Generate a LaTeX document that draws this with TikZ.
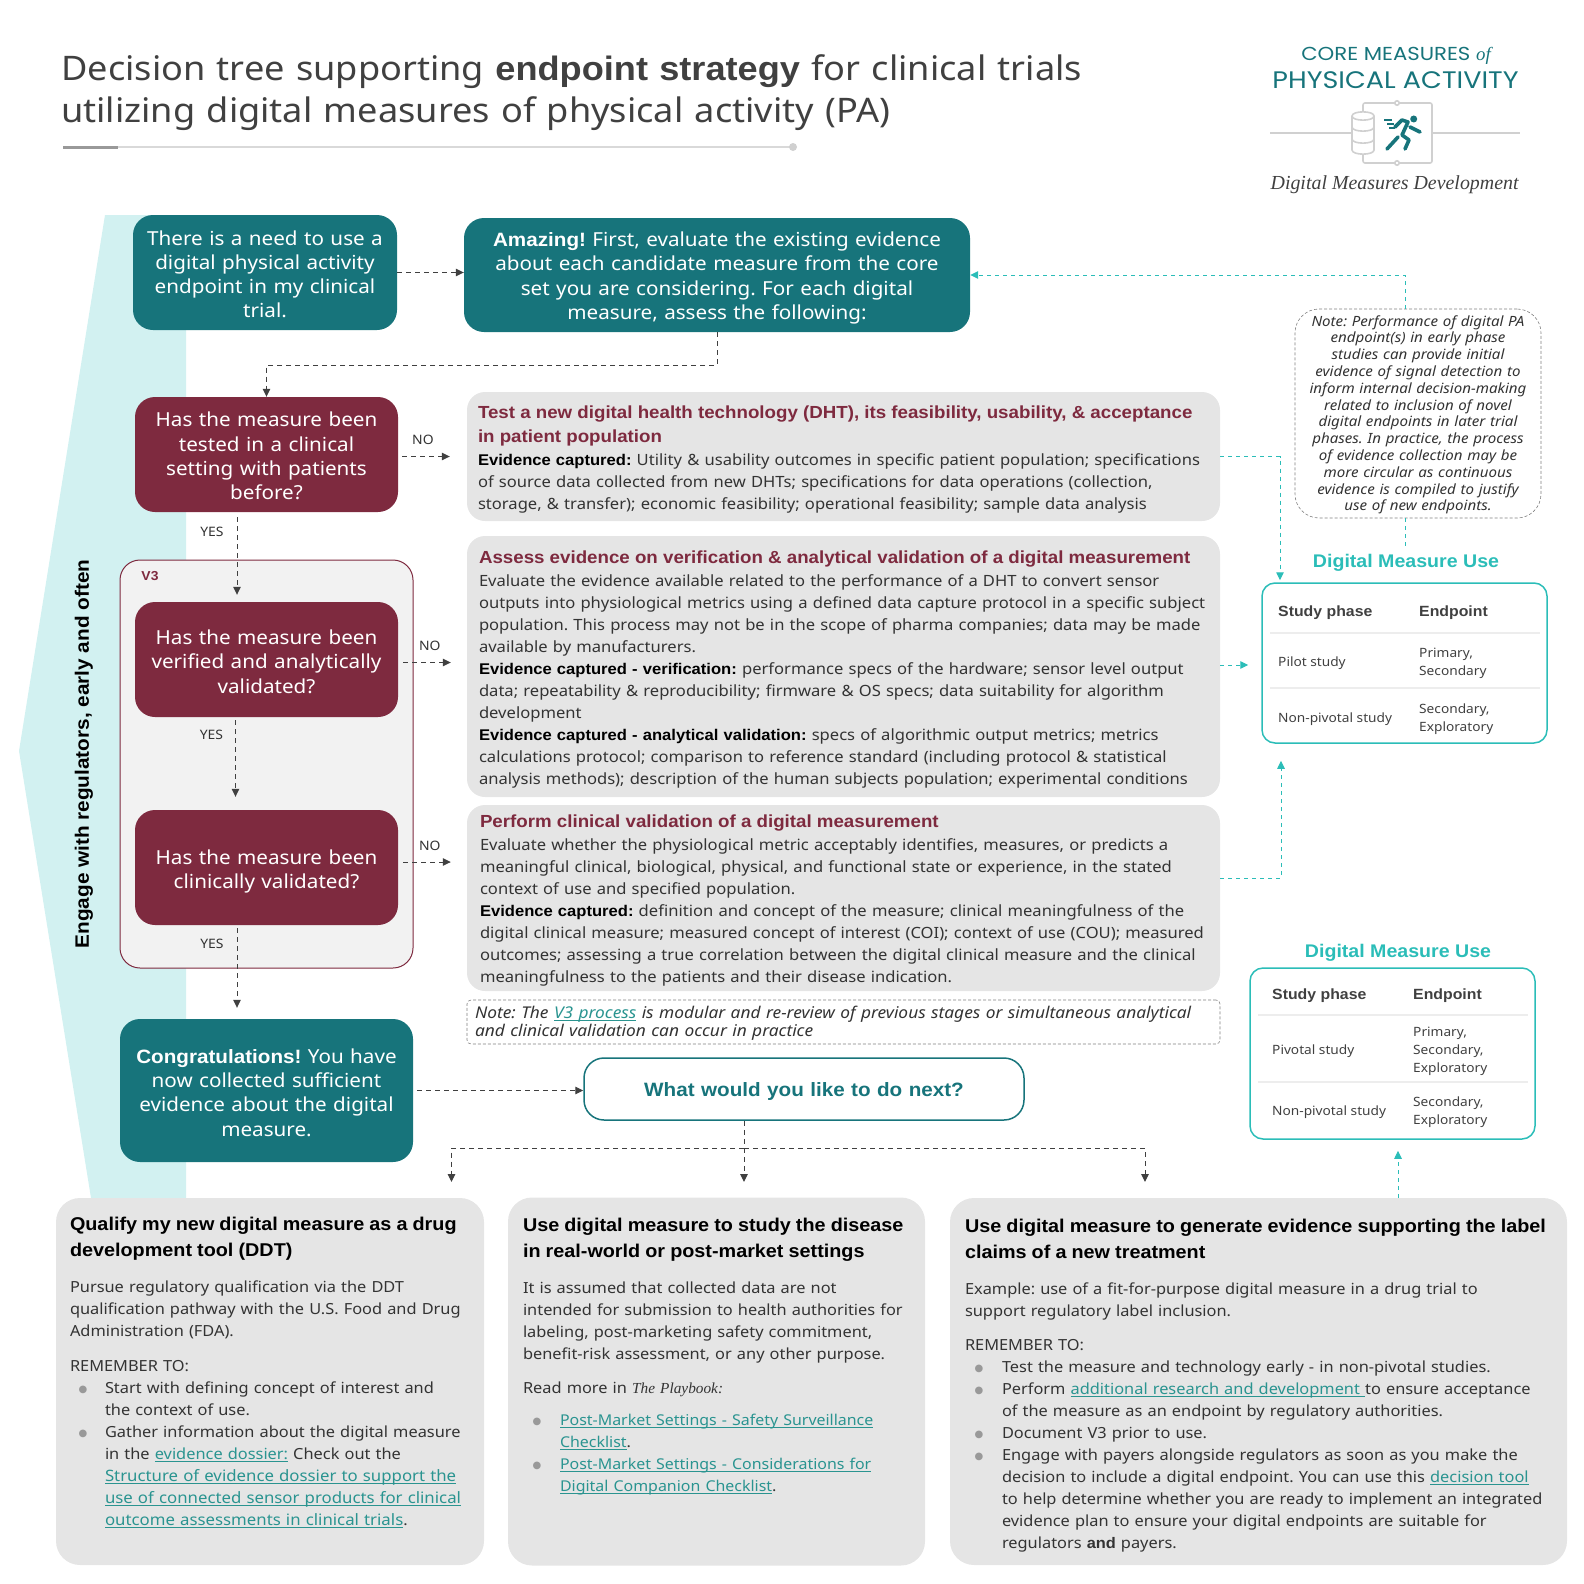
\documentclass[tikz,border=0pt]{standalone}
\usepackage{fontspec}
\usetikzlibrary{positioning,arrows.meta,calc}
\setmainfont{Noto Sans}[FakeStretch=1.07,BoldFont={Liberation Sans Bold}]
\setsansfont{Noto Sans}[FakeStretch=1.07,BoldFont={Liberation Sans Bold}]
\newfontfamily\serifface{Liberation Serif}
\newfontfamily\symface{DejaVu Sans}
\newfontfamily\logoface{Poppins}[FakeStretch=1.13]
\definecolor{tealc}{HTML}{17747B}
\definecolor{maroonc}{HTML}{7E2A3F}
\definecolor{greyc}{HTML}{E5E5E5}
\definecolor{cyanc}{HTML}{2BBDB8}
\definecolor{bandc}{HTML}{D2F1F1}
\definecolor{darkc}{HTML}{404040}
\definecolor{inkc}{HTML}{333333}
\definecolor{linkc}{HTML}{2A9490}
\definecolor{logoc}{HTML}{D0D0D0}
\newcommand{\hd}[1]{{\fontsize{17.5}{22}\selectfont\bfseries\color{maroonc}#1}}
\newcommand{\bd}[1]{{\bfseries\color{black}#1}}
\newcommand{\hb}[1]{{\fontsize{18.5}{22}\selectfont\bfseries\color{black}#1}}
\newcommand{\lnk}[2][]{{\color{linkc}\setbox0\hbox{#1#2}\rlap{\rule[-2.6pt]{\wd0}{.9pt}}\box0}}
\newcommand{\lnkwide}{\fontsize{15.7}{22}\selectfont}
\newcommand{\lnkslim}{\fontsize{14.9}{22}\selectfont}
\newcommand{\bul}[1]{\hspace*{#1pt}\makebox[0pt]{\raisebox{1.5pt}{\symface\fontsize{10}{10}\selectfont\color{gray!80}●}}}
\begin{document}
\frenchspacing
\begin{tikzpicture}[x=1pt,y=-1pt,on grid,auto,
   textbox/.style n args={4}{rounded corners=18pt,fill=greyc,text=inkc,align=left,anchor=center,
      text width={(#1-2*#4)*1pt},inner xsep=#4pt,inner ysep=0pt,text height=#3pt,text depth={(#2-#3)*1pt},
      font=\fontsize{15.5}{22}\selectfont},
   startbox/.style n args={4}{textbox={#1}{#2}{#3}{#4},rounded corners=20pt,fill=tealc,text=white,align=center,
      font=\fontsize{19.3}{24.2}\selectfont},
   qbox/.style n args={4}{startbox={#1}{#2}{#3}{#4},fill=maroonc},
   lab/.style={font=\fontsize{13}{14}\selectfont,text=inkc,inner sep=3pt},
   flow/.style={draw=darkc,line width=1pt,dash pattern=on 5pt off 4pt,-{Triangle[length=8pt,width=7.5pt]}},
   flows/.style={every edge/.style={flow}},
   cflow/.style={flow,draw=cyanc,dash pattern=on 4pt off 4pt,-{Triangle[length=8pt,width=7.5pt,cyanc]}},
   tablebox/.style={draw=cyanc,line width=1.5pt,rounded corners=13pt,minimum width=285pt},
   usetitle/.style={text=cyanc,font=\fontsize{18.3}{22}\selectfont\bfseries,minimum height=34pt,inner sep=0pt},
   rowrule/.style={draw=black!7,line width=2.5pt},
   cellhead/.style={anchor=west,inner sep=0pt,text=darkc,font=\fontsize{14.8}{18}\selectfont\bfseries},
   cell/.style={anchor=west,inner sep=0pt,align=left,text=darkc,font=\fontsize{12.8}{18}\selectfont},
   logoline/.style={draw=logoc,line width=1.6pt}]
   \useasboundingbox (0,0) rectangle (1584,1584);
   \fill[bandc] (105,215) -- (186,215) -- (186,1198) -- (91,1198) -- (19,751) -- cycle;

   \node[anchor=base west,inner sep=0pt,text width=1200pt,align=left,text=darkc,font=\fontsize{33.8}{42}\selectfont] (title) at (61,81)
      {Decision tree supporting \textbf{endpoint strategy} for clinical trials\\utilizing digital measures of physical activity (PA)};
   \draw[line width=2.5pt,draw=logoc!80] (63,147) -- (793,147);
   \draw[line width=3pt,draw=black!40] (63,147) -- (118,147);
   \fill[logoc] (793,147) circle (4);

   \node[text=tealc,font=\logoface\fontsize{18.8}{22}\selectfont,inner sep=0pt] (logo_1) at (1396,56)
      {CORE MEASURES {\serifface\itshape of}};
   \node[text=tealc,font=\logoface\fontsize{23.9}{28}\selectfont,inner sep=0pt] (logo_2) at (1395.5,80) {PHYSICAL ACTIVITY};
   \node[text=darkc,font=\serifface\itshape\fontsize{19.9}{26}\selectfont,inner sep=0pt] (logo_3) at (1394.6,185) {Digital Measures Development};
   \draw[logoline] (1270,133) -- (1352,133) (1432,133) -- (1520,133);
   \draw[logoline,rounded corners=2pt] (1363,103) rectangle (1432,163);
   \filldraw[logoline,fill=white] (1397,103) circle (2.2) (1397,163) circle (2.2);
   \filldraw[logoline,fill=white] (1352,116) -- (1352,150) .. controls (1352,155.5) and (1374,155.5) .. (1374,150) -- (1374,116) .. controls (1374,110.5) and (1352,110.5) .. (1352,116) -- cycle;
   \draw[logoline] (1352,116) .. controls (1352,121.5) and (1374,121.5) .. (1374,116)
      (1352,127) .. controls (1352,132.5) and (1374,132.5) .. (1374,127)
      (1352,139) .. controls (1352,144.5) and (1374,144.5) .. (1374,139);
   \fill[tealc] (1413.7,119) circle (3.5);
   \draw[tealc,line width=3.6pt,line cap=round,line join=round] (1395,127) -- (1402,120) -- (1408,122) -- (1402,135) -- (1409,140) -- (1405,149)
      (1398,137) -- (1387,149) (1410,127) -- (1420,132);
   \draw[tealc,line width=1.6pt] (1384,120) -- (1392,120) (1387,124) -- (1394,124) (1389,128) -- (1395,128);

   \node[startbox={264}{115}{30.1}{4}] (s_0) at (265,272.5)
      {There is a need to use a\\digital physical activity\\endpoint in my clinical\\trial.};
   \node[startbox={506}{114}{28.6}{4}] (s_1) [below right=2.5pt and 452pt of s_0]
      {\textbf{Amazing!} First, evaluate the existing evidence\\about each candidate measure from the core\\set you are considering. For each digital\\measure, assess the following:};
   \node[qbox={263}{115}{29.9}{4}] (q_1) at (266.5,454.5)
      {Has the measure been\\tested in a clinical\\setting with patients\\before?};
   \node[draw=maroonc,line width=1pt,fill=black!5,rounded corners=20pt,minimum width=293pt,minimum height=408pt] (v_3) [below=309.5pt of q_1] {};
   \node[text=maroonc,font=\fontsize{13}{15}\selectfont\bfseries,inner sep=0pt] (v_0) at (150,576) {V3};
   \node[qbox={263}{115}{42.6}{4}] (q_2) [below=205pt of q_1] {Has the measure been\\verified and analytically\\validated?};
   \node[qbox={263}{115}{54.3}{4}] (q_3) [below=208pt of q_2] {Has the measure been\\clinically validated?};
   \node[startbox={293}{143}{44.4}{4}] (c_0) [below=223pt of q_3]
      {\textbf{Congratulations!} You have\\now collected sufficient\\evidence about the digital\\measure.};
   \node[startbox={440}{62}{38.5}{5},draw=tealc,line width=1.5pt,fill=white,text=tealc,
      font=\fontsize{19.3}{24}\selectfont\bfseries] (n_0) [below right=-1.5pt and 537.5pt of c_0] {What would you like to do next?};

   \node[rotate=90,inner sep=0pt,text=black,font=\fontsize{19.4}{22}\selectfont\bfseries] (band) at (84,754) {Engage with regulators, early and often};

   \node[textbox={753}{129}{26.5}{11}] (t_1) at (843.5,456.5)
      {\hd{Test a new digital health technology (DHT), its feasibility, usability, \& acceptance}\\[2pt]
       \hd{in patient population}\\[1pt]
       \bd{Evidence captured:} Utility \& usability outcomes in specific patient population; specifications\\
       of source data collected from new DHTs; specifications for data operations (collection,\\
       storage, \& transfer); economic feasibility; operational feasibility; sample data analysis};
   \node[textbox={753}{261}{27.5}{12}] (t_2) [below=210pt of t_1]
      {\hd{Assess evidence on verification \& analytical validation of a digital measurement}\\[1pt]
       Evaluate the evidence available related to the performance of a DHT to convert sensor\\
       outputs into physiological metrics using a defined data capture protocol in a specific subject\\
       population. This process may not be in the scope of pharma companies; data may be made\\
       available by manufacturers.\\
       \bd{Evidence captured - verification:} performance specs of the hardware; sensor level output\\
       data; repeatability \& reproducibility; firmware \& OS specs; data suitability for algorithm\\
       development\\
       \bd{Evidence captured - analytical validation:} specs of algorithmic output metrics; metrics\\
       calculations protocol; comparison to reference standard (including protocol \& statistical\\
       analysis methods); description of the human subjects population; experimental conditions};
   \node[textbox={753}{186}{22}{13}] (t_3) [below=231.5pt of t_2]
      {\hd{Perform clinical validation of a digital measurement}\\[1pt]
       Evaluate whether the physiological metric acceptably identifies, measures, or predicts a\\
       meaningful clinical, biological, physical, and functional state or experience, in the stated\\
       context of use and specified population.\\
       \bd{Evidence captured:} definition and concept of the measure; clinical meaningfulness of the\\
       digital clinical measure; measured concept of interest (COI); context of use (COU); measured\\
       outcomes; assessing a true correlation between the digital clinical measure and the clinical\\
       meaningfulness to the patients and their disease indication.};
   \node[textbox={753}{44}{18}{8},fill=none,draw=gray,densely dashed,line width=.6pt,rounded corners=4pt,
      font=\fontsize{16.2}{18.7}\selectfont\itshape] (n_1) [below=124pt of t_3]
      {Note: The \lnk{V3 process} is modular and re-review of previous stages or simultaneous analytical\\
       and clinical validation can occur in practice};
   \node[textbox={246}{209}{17}{6},fill=none,draw=gray,densely dashed,line width=.6pt,rounded corners=24pt,align=center,
      font=\fontsize{14.1}{16.8}\selectfont\itshape] (n_2) at (1418,413.5)
      {Note: Performance of digital PA\\endpoint(s) in early phase\\studies can provide initial\\evidence of signal detection to\\inform internal decision-making\\related to inclusion of novel\\digital endpoints in later trial\\phases. In practice, the process\\of evidence collection may be\\more circular as continuous\\evidence is compiled to justify\\use of new endpoints.};

   \node[usetitle] (v_1) at (1406,563) {Digital Measure Use};
   \node[tablebox,minimum height=160pt] (u_1) at (1404.5,663) {};
   \draw[rowrule] (1270,633) -- (1540,633) (1270,688) -- (1540,688);
   \node[cellhead] (h_1) at (1278,613) {Study phase};
   \node[cellhead] (h_2) at (1419,613) {Endpoint};
   \node[cell] (r_1) at (1278,663) {Pilot study};
   \node[cell] (r_2) at (1419,663) {Primary,\\Secondary};
   \node[cell] (r_3) at (1278,719) {Non-pivotal study};
   \node[cell] (r_4) at (1419,719) {Secondary,\\Exploratory};

   \node[usetitle] (v_2) at (1398,953) {Digital Measure Use};
   \node[tablebox,minimum height=171pt] (u_2) at (1392.5,1053.5) {};
   \draw[rowrule] (1258,1015) -- (1528,1015) (1258,1082) -- (1528,1082);
   \node[cellhead] (h_3) at (1272,996) {Study phase};
   \node[cellhead] (h_4) at (1413,996) {Endpoint};
   \node[cell] (r_5) at (1272,1051.5) {Pivotal study};
   \node[cell] (r_6) at (1413,1051.5) {Primary,\\Secondary,\\Exploratory};
   \node[cell] (r_7) at (1272,1112) {Non-pivotal study};
   \node[cell] (r_8) at (1413,1112) {Secondary,\\Exploratory};

   \node[textbox={428}{367}{32}{14},rounded corners=24pt,font=\fontsize{15.3}{22}\selectfont] (b_1) at (270,1381.5)
      {\hb{Qualify my new digital measure as a drug}\\[4.5pt]
       \hb{development tool (DDT)}\\[14pt]
       Pursue regulatory qualification via the DDT\\
       qualification pathway with the U.S. Food and Drug\\
       Administration (FDA).\\[13pt]
       REMEMBER TO:\\
       \bul{13}\hspace*{22pt}Start with defining concept of interest and\\
       \hspace*{35pt}the context of use.\\
       \bul{13}\hspace*{22pt}Gather information about the digital measure\\
       \hspace*{35pt}in the \lnk{evidence dossier:} Check out the\\
       \hspace*{35pt}\lnk[\lnkwide]{Structure of evidence dossier to support the}\\
       \hspace*{35pt}\lnk[\lnkwide]{use of connected sensor products for clinical}\\
       \hspace*{35pt}\lnk[\lnkwide]{outcome assessments in clinical trials}.};
   \node[textbox={417}{368}{33.5}{15},rounded corners=24pt,font=\fontsize{15.3}{22}\selectfont] (b_2) [right=446.5pt of b_1]
      {\hb{Use digital measure to study the disease}\\[4.5pt]
       \hb{in real-world or post-market settings}\\[14pt]
       It is assumed that collected data are not\\
       intended for submission to health authorities for\\
       labeling, post-marketing safety commitment,\\
       benefit-risk assessment, or any other purpose.\\[12pt]
       Read more in {\serifface\itshape The Playbook:}\\[10pt]
       \bul{14}\hspace*{23pt}\lnk[\lnkslim]{Post-Market Settings - Safety Surveillance}\\
       \hspace*{37pt}\lnk[\lnkslim]{Checklist}.\\
       \bul{14}\hspace*{23pt}\lnk[\lnkslim]{Post-Market Settings - Considerations for}\\
       \hspace*{37pt}\lnk[\lnkslim]{Digital Companion Checklist}.};
   \node[textbox={617}{367}{34}{15},rounded corners=24pt,font=\fontsize{15.3}{22}\selectfont] (b_3) [right=542pt of b_2]
      {\hb{Use digital measure to generate evidence supporting the label}\\[4.5pt]
       \hb{claims of a new treatment}\\[14pt]
       Example: use of a fit-for-purpose digital measure in a drug trial to\\
       support regulatory label inclusion.\\[12pt]
       REMEMBER TO:\\
       \bul{14}\hspace*{23pt}Test the measure and technology early - in non-pivotal studies.\\
       \bul{14}\hspace*{23pt}Perform \lnk{additional research and development\ }to ensure acceptance\\
       \hspace*{37pt}of the measure as an endpoint by regulatory authorities.\\
       \bul{14}\hspace*{23pt}Document V3 prior to use.\\
       \bul{14}\hspace*{23pt}Engage with payers alongside regulators as soon as you make the\\
       \hspace*{37pt}decision to include a digital endpoint. You can use this \lnk{decision tool}\\
       \hspace*{37pt}to help determine whether you are ready to implement an integrated\\
       \hspace*{37pt}evidence plan to ensure your digital endpoints are suitable for\\
       \hspace*{37pt}regulators \textbf{and} payers.};

   \coordinate (d_0) at (744,1148);
   \coordinate (d_1) at (451.5,1182);
   \coordinate (d_2) at (744,1182);
   \coordinate (d_3) at (1145,1182);

   \path[flows]
    (s_0.east) edge (s_0.east -| s_1.west)
    (q_1.east |- t_1.west) edge [shorten <=4pt,shorten >=17pt] node [lab,pos=.36,yshift=8pt] {NO} (t_1.west)
    ([yshift=-3pt]q_2.east) edge [shorten <=5pt,shorten >=16pt] node [lab,pos=.46,yshift=8pt] {NO} ([yshift=-3pt]q_2.east -| t_2.west)
    ([yshift=5.5pt]q_3.east) edge [shorten <=5pt,shorten >=16pt] node [lab,pos=.46,yshift=8pt] {NO} ([yshift=5.5pt]q_3.east -| t_3.west)
    ([xshift=-29.5pt]q_1.south) edge [shorten <=5pt,shorten >=7pt] node [lab,swap,pos=.22,xshift=-10pt] {YES} ([xshift=-29.5pt]q_2.north)
    ([xshift=-31pt]q_2.south) edge [shorten <=3pt,shorten >=13pt] node [lab,swap,pos=.19,xshift=-9pt] {YES} ([xshift=-31pt]q_3.north)
    ([xshift=-29.5pt]q_3.south) edge [shorten <=3pt,shorten >=11pt] node [lab,swap,pos=.2,xshift=-10pt] {YES} ([xshift=-29.5pt]c_0.north)
    (c_0.east) edge [shorten <=4pt] (c_0.east -| n_0.west)
    (n_0.south -| d_0) edge (d_2);
   \draw[flow] (s_1.south) -- ++(0,33) -| (q_1.north);
   \draw[flow] (d_0) -| (d_1);
   \draw[flow] (d_0) -| (d_3);
   \draw[cflow] ([xshift=-13pt]n_2.north) |- (s_1.east);
   \draw[cflow,-] ([xshift=-13pt]n_2.south) -- ([xshift=-1pt]v_1.north);
   \draw[cflow,shorten >=2pt] (t_1.east) -| ([xshift=-124.5pt]u_1.north);
   \draw[cflow,shorten >=13pt] ([yshift=1.5pt]t_2.east) -- ([yshift=-2pt]u_1.west);
   \draw[cflow,shorten >=17pt] ([yshift=20pt]t_3.east) -| ([xshift=-123.5pt]u_1.south);
   \draw[cflow,shorten >=11pt] ([xshift=139.5pt]b_3.north) -- ([xshift=5.5pt]u_2.south);
\end{tikzpicture}
\end{document}
